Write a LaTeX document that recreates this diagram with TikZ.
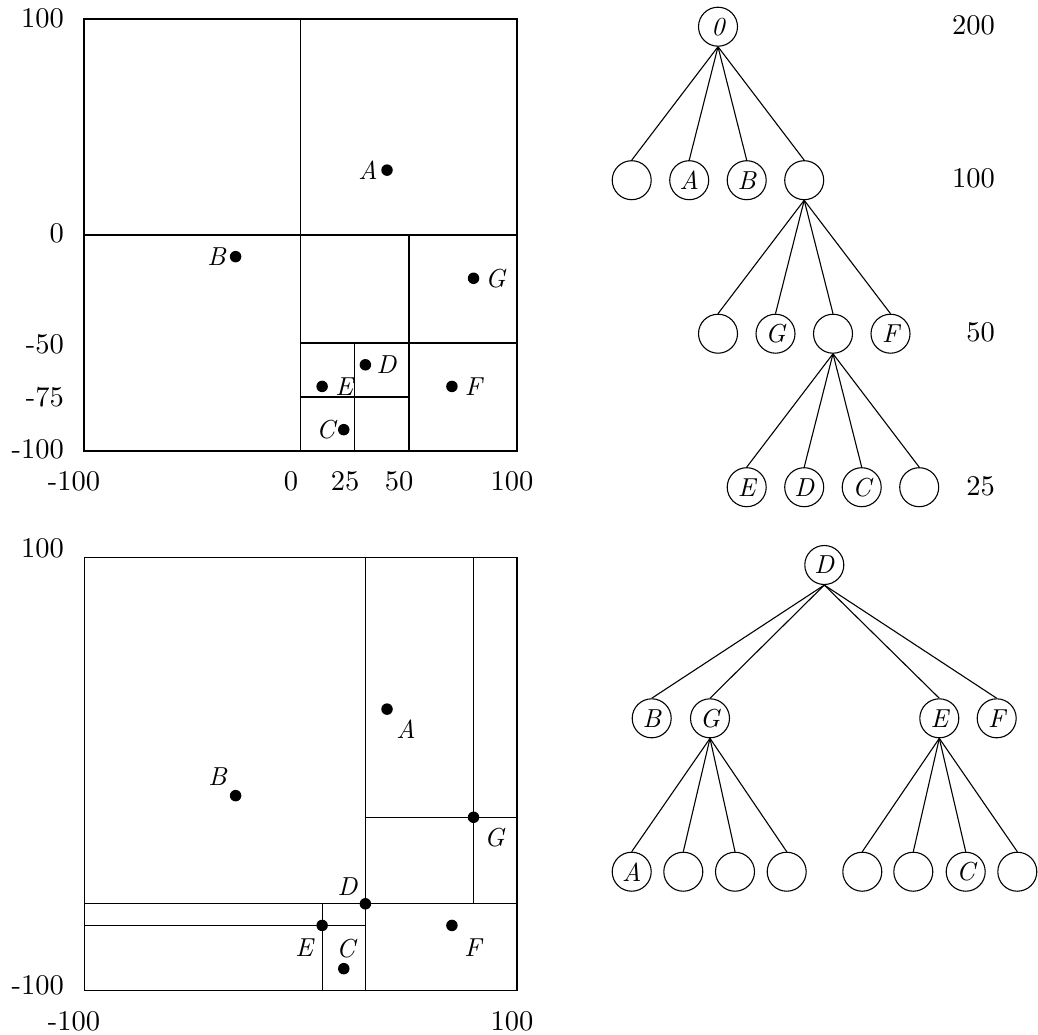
\documentclass[tikz,border=0pt]{standalone}
\usepackage{fontspec}
\setmainfont{lmroman10-regular}[Extension=.otf, ItalicFont=lmroman10-italic]
\begin{document}
\begin{tikzpicture}[x=1pt,y=1pt,
  num/.style={font=\fontsize{28.5}{32}\selectfont, inner sep=0pt},
  lab/.style={font=\fontsize{26}{30}\selectfont\itshape, inner sep=0pt},
  dot/.style={circle, fill=black, inner sep=0pt, minimum size=11.5pt},
  tn/.style={circle, draw, line width=1.1pt, minimum size=39pt, inner sep=0pt, font=\fontsize{26}{30}\selectfont\itshape},
  edge/.style={line width=1.1pt},
  thickgrid/.style={line width=1.7pt},
  thingrid/.style={line width=1.1pt}]
\useasboundingbox (0,0) rectangle (1038,-1034);

% ---------------- top-left: point region quadtree ----------------
\begin{scope}[shift={(300.5,-235)}, x=2.163pt, y=2.163pt]
  \draw[thickgrid] (-100,-100) rectangle (100,100);
  \draw[thickgrid] (0,-100) -- (0,100);
  \draw[thickgrid] (-100,0) -- (100,0);
  \draw[thickgrid] (50,-100) -- (50,0);
  \draw[thickgrid] (0,-50) -- (100,-50);
  \draw[thickgrid] (25,-100) -- (25,-50);
  \draw[thickgrid] (0,-75) -- (50,-75);
  \node[dot] (tA) at (40,30) {};
  \node[dot] (tB) at (-30,-10) {};
  \node[dot] (tG) at (80,-20) {};
  \node[dot] (tD) at (30,-60) {};
  \node[dot] (tE) at (10,-70) {};
  \node[dot] (tF) at (70,-70) {};
  \node[dot] (tC) at (20,-90) {};
  \node[lab] (tAl) at ([xshift=-19pt]tA) {A};
  \node[lab] (tBl) at ([xshift=-19pt]tB) {B};
  \node[lab] (tGl) at ([xshift=22pt]tG) {G};
  \node[lab] (tDl) at ([xshift=21pt]tD) {D};
  \node[lab] (tEl) at ([xshift=22pt]tE) {E};
  \node[lab] (tFl) at ([xshift=21.5pt]tF) {F};
  \node[lab] (tCl) at ([xshift=-18pt]tC) {C};
\end{scope}
% axis labels top
\node[num, anchor=east] (ty100) at (64,-18) {100};
\node[num, anchor=east] (ty0) at (64,-233) {0};
\node[num, anchor=east] (ty50) at (64,-344) {-50};
\node[num, anchor=east] (ty75) at (64,-397) {-75};
\node[num, anchor=east] (ty100n) at (64,-449) {-100};
\node[num] (tx100n) at (74,-481) {-100};
\node[num] (tx0) at (291,-481) {0};
\node[num] (tx25) at (345,-481) {25};
\node[num] (tx50) at (399,-481) {50};
\node[num] (tx100) at (512,-481) {100};

% ---------------- top-right: quadtree ----------------
\node[tn] (r0) at (718,-26.7) {0};
\node[tn] (a1) at (631.7,-180.2) {};
\node[tn] (a2) at (689.2,-180.2) {A};
\node[tn] (a3) at (746.7,-180.2) {B};
\node[tn] (a4) at (804.2,-180.2) {};
\node[tn] (b1) at (718,-333.7) {};
\node[tn] (b2) at (775.5,-333.7) {G};
\node[tn] (b3) at (833,-333.7) {};
\node[tn] (b4) at (890.5,-333.7) {F};
\node[tn] (c1) at (746.7,-487.2) {E};
\node[tn] (c2) at (804.2,-487.2) {D};
\node[tn] (c3) at (861.7,-487.2) {C};
\node[tn] (c4) at (919.2,-487.2) {};
\foreach \c in {a1,a2,a3,a4} \draw[edge] (r0.south) -- (\c.north);
\foreach \c in {b1,b2,b3,b4} \draw[edge] (a4.south) -- (\c.north);
\foreach \c in {c1,c2,c3,c4} \draw[edge] (b3.south) -- (\c.north);
\node[num, anchor=east] (w200) at (995,-25) {200};
\node[num, anchor=east] (w100) at (995,-178) {100};
\node[num, anchor=east] (w50) at (995,-332) {50};
\node[num, anchor=east] (w25) at (995,-486) {25};

% ---------------- bottom-left: point quadtree ----------------
\begin{scope}[shift={(300.5,-774)}, x=2.163pt, y=2.163pt]
  \draw[line width=1.4pt] (-100,-100) rectangle (100,100);
  \draw[thingrid] (30,-100) -- (30,100);
  \draw[thingrid] (-100,-60) -- (100,-60);
  \draw[thingrid] (80,-60) -- (80,100);
  \draw[thingrid] (30,-20) -- (100,-20);
  \draw[thingrid] (10,-100) -- (10,-60);
  \draw[thingrid] (-100,-70) -- (30,-70);
  \node[dot] (bA) at (40,30) {};
  \node[dot] (bB) at (-30,-10) {};
  \node[dot] (bG) at (80,-20) {};
  \node[dot] (bD) at (30,-60) {};
  \node[dot] (bE) at (10,-70) {};
  \node[dot] (bF) at (70,-70) {};
  \node[dot] (bC) at (20,-90) {};
  \node[lab] (bAl) at ([xshift=19pt,yshift=-20pt]bA) {A};
  \node[lab] (bBl) at ([xshift=-18pt,yshift=19pt]bB) {B};
  \node[lab] (bGl) at ([xshift=21pt,yshift=-20pt]bG) {G};
  \node[lab] (bDl) at ([xshift=-18pt,yshift=17pt]bD) {D};
  \node[lab] (bEl) at ([xshift=-18pt,yshift=-22pt]bE) {E};
  \node[lab] (bFl) at ([xshift=21pt,yshift=-22pt]bF) {F};
  \node[lab] (bCl) at ([xshift=2pt,yshift=20pt]bC) {C};
\end{scope}
\node[num, anchor=east] (by100) at (64,-548) {100};
\node[num, anchor=east] (by100n) at (64,-985) {-100};
\node[num] (bx100n) at (74,-1021) {-100};
\node[num] (bx100) at (512,-1021) {100};

% ---------------- bottom-right: point quadtree tree ----------------
\node[tn] (d0) at (824.3,-565) {D};
\node[tn] (e1) at (651.7,-718.3) {B};
\node[tn] (e2) at (710,-718.3) {G};
\node[tn] (e3) at (939.3,-718.3) {E};
\node[tn] (e4) at (996.7,-718.3) {F};
\node[tn] (f1) at (631.7,-871.7) {A};
\node[tn] (f2) at (683.3,-871.7) {};
\node[tn] (f3) at (735,-871.7) {};
\node[tn] (f4) at (786.7,-871.7) {};
\node[tn] (g1) at (862.3,-871.7) {};
\node[tn] (g2) at (913.3,-871.7) {};
\node[tn] (g3) at (965.7,-871.7) {C};
\node[tn] (g4) at (1017.3,-871.7) {};
\foreach \c in {e1,e2,e3,e4} \draw[edge] (d0.south) -- (\c.north);
\foreach \c in {f1,f2,f3,f4} \draw[edge] (e2.south) -- (\c.north);
\foreach \c in {g1,g2,g3,g4} \draw[edge] (e3.south) -- (\c.north);
\end{tikzpicture}
\end{document}
